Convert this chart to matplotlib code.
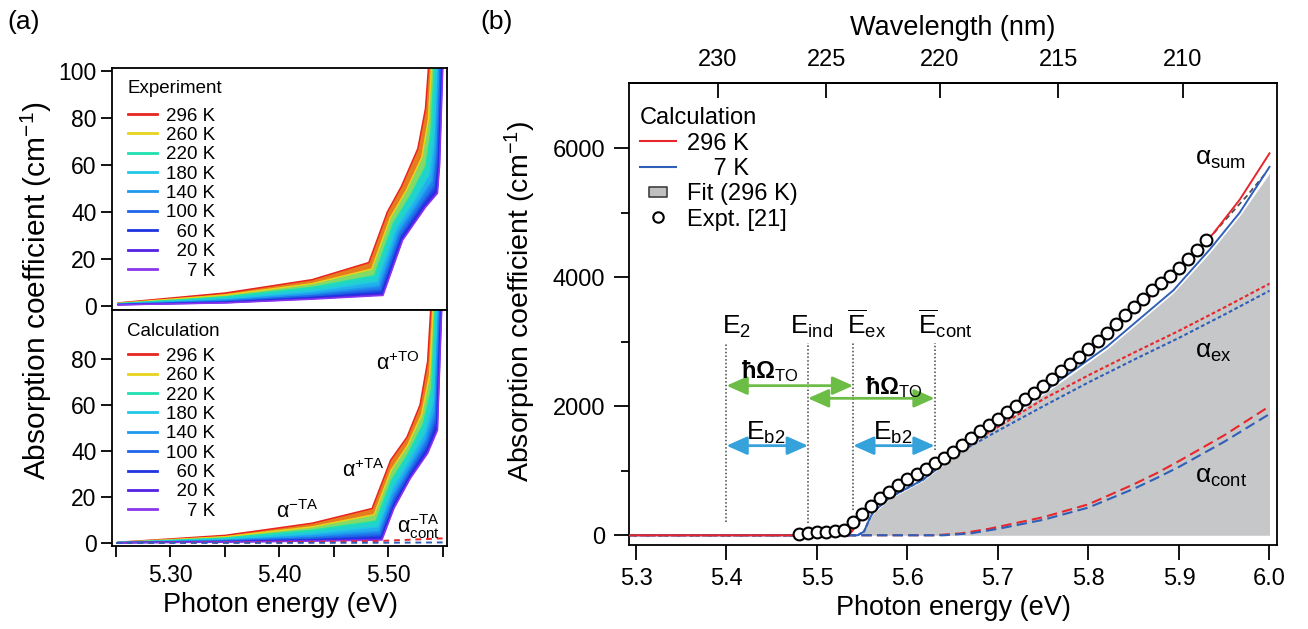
import numpy as np
import matplotlib.pyplot as plt
from matplotlib.lines import Line2D
from matplotlib.path import Path
from matplotlib.colors import to_rgb

plt.rcParams['font.family'] = ['Liberation Sans', 'DejaVu Sans']
plt.rcParams['mathtext.fontset'] = 'custom'
plt.rcParams['mathtext.rm'] = 'Liberation Sans'
plt.rcParams['mathtext.it'] = 'Liberation Sans:italic'
plt.rcParams['mathtext.bf'] = 'Liberation Sans:bold'
plt.rcParams['axes.linewidth'] = 1.3

# ---------------- (a) temperature series ----------------
temp_labels = ['296 K', '260 K', '220 K', '180 K', '140 K', '100 K',
               '  60 K', '  20 K', '    7 K']
temp_colors = ['#e8251f', '#e6d31c', '#1fe0b0', '#22c7e6', '#1f98f0',
               '#1f66e8', '#1f33e0', '#5322e3', '#8a35ee']

# measured spectra, one row per temperature (warm -> cold)
exp_energy = [
    [5.252, 5.35, 5.43, 5.482, 5.499, 5.512, 5.527, 5.534, 5.537],
    [5.252, 5.35, 5.43, 5.4846, 5.5018, 5.5164, 5.5306, 5.5366, 5.5396],
    [5.252, 5.35, 5.43, 5.4872, 5.5046, 5.5208, 5.5342, 5.5392, 5.5422],
    [5.252, 5.35, 5.43, 5.4895, 5.5071, 5.5248, 5.5374, 5.5415, 5.5445],
    [5.252, 5.35, 5.43, 5.4914, 5.5091, 5.5278, 5.5400, 5.5434, 5.5464],
    [5.252, 5.35, 5.43, 5.4928, 5.5106, 5.5303, 5.5419, 5.5448, 5.5478],
    [5.252, 5.35, 5.43, 5.4940, 5.5119, 5.5322, 5.5436, 5.5460, 5.5490],
    [5.252, 5.35, 5.43, 5.4947, 5.5127, 5.5336, 5.5446, 5.5467, 5.5497],
    [5.252, 5.35, 5.43, 5.4950, 5.5130, 5.5340, 5.5450, 5.5470, 5.5500],
]
exp_alpha = [
    [1.30, 5.50, 11.2, 18.5, 40.0, 51.0, 67.0, 84.0, 103],
    [1.14, 4.66, 9.5, 15.7, 37.6, 49.2, 63.2, 79.2, 103],
    [0.98, 3.82, 7.9, 12.9, 35.2, 47.4, 59.4, 74.4, 103],
    [0.84, 3.06, 6.3, 10.4, 33.0, 45.8, 56.0, 70.1, 103],
    [0.72, 2.48, 5.1, 8.4, 31.4, 44.5, 53.3, 66.7, 103],
    [0.64, 2.01, 4.3, 6.9, 30.0, 43.5, 51.2, 64.1, 103],
    [0.56, 1.64, 3.6, 5.6, 29.0, 42.7, 49.5, 61.9, 103],
    [0.52, 1.38, 3.1, 4.8, 28.2, 42.2, 48.4, 60.5, 103],
    [0.50, 1.30, 2.9, 4.5, 28.0, 42.0, 48.0, 60.0, 103],
]

# calculated spectra
calc_energy = [
    [5.252, 5.35, 5.43, 5.485, 5.502, 5.517, 5.529, 5.536, 5.539],
    [5.252, 5.35, 5.43, 5.4868, 5.5026, 5.5176, 5.5304, 5.5378, 5.5410],
    [5.252, 5.35, 5.43, 5.4886, 5.5032, 5.5182, 5.5318, 5.5396, 5.5430],
    [5.252, 5.35, 5.43, 5.4902, 5.5037, 5.5187, 5.5331, 5.5412, 5.5448],
    [5.252, 5.35, 5.43, 5.4915, 5.5042, 5.5192, 5.5340, 5.5425, 5.5462],
    [5.252, 5.35, 5.43, 5.4925, 5.5045, 5.5195, 5.5348, 5.5435, 5.5473],
    [5.252, 5.35, 5.43, 5.4933, 5.5048, 5.5198, 5.5354, 5.5443, 5.5482],
    [5.252, 5.35, 5.43, 5.4938, 5.5050, 5.5200, 5.5359, 5.5448, 5.5488],
    [5.252, 5.35, 5.43, 5.4940, 5.5050, 5.5200, 5.5360, 5.5450, 5.5490],
]
calc_alpha = [
    [0.30, 3.30, 8.6, 15.0, 36.0, 46.0, 60.0, 79.0, 103],
    [0.26, 2.72, 7.0, 12.3, 31.8, 42.4, 55.8, 73.0, 103],
    [0.22, 2.14, 5.5, 9.5, 27.6, 38.8, 51.6, 67.0, 103],
    [0.18, 1.62, 4.1, 7.05, 23.8, 35.6, 47.8, 61.6, 103],
    [0.16, 1.21, 3.0, 5.14, 20.9, 33.0, 44.9, 57.4, 103],
    [0.13, 0.89, 2.1, 3.63, 18.6, 31.1, 42.6, 54.1, 103],
    [0.12, 0.63, 1.4, 2.4, 16.7, 29.4, 40.7, 51.4, 103],
    [0.10, 0.46, 0.96, 1.57, 15.4, 28.4, 39.4, 49.6, 103],
    [0.10, 0.40, 0.80, 1.30, 15.0, 28.0, 39.0, 49.0, 103],
]

# continuum part of the -TA branch (296 K and 7 K)
cont_a_energy = [5.25, 5.40, 5.49, 5.555]
cont_a_296 = [0.05, 0.30, 0.85, 2.1]
cont_a_7 = [0.0, 0.05, 0.10, 0.25]

# ---------------- (b) room temperature vs 7 K ----------------
sum296_energy = [5.29, 5.53, 5.536, 5.545, 5.55, 5.56, 5.57, 5.60, 5.64,
                 5.70, 5.766, 5.82, 5.894, 5.938, 5.967, 6.0]
sum296 = [0, 0, 20, 180, 290, 430, 550, 850, 1190,
          1780, 2470, 3110, 4020, 4680, 5200, 5920]
sum7_energy = [5.29, 5.545, 5.552, 5.558, 5.562, 5.581, 5.617, 5.654, 5.691,
               5.732, 5.768, 5.82, 5.894, 5.934, 5.967, 6.0]
sum7 = [0, 0, 60, 250, 360, 590, 860, 1270, 1630,
        2035, 2400, 2920, 3800, 4430, 5000, 5710]

ex296_energy = [5.29, 5.535, 5.545, 5.55, 5.56, 5.57, 5.60, 5.64, 5.70,
                5.75, 5.80, 5.85, 5.90, 5.95, 6.0]
ex296 = [0, 0, 180, 290, 430, 550, 850, 1170, 1680,
         2110, 2480, 2830, 3170, 3530, 3900]
ex7_energy = [5.29, 5.545, 5.552, 5.558, 5.562, 5.581, 5.617, 5.654, 5.70,
              5.75, 5.80, 5.85, 5.90, 5.95, 6.0]
ex7 = [0, 0, 60, 250, 360, 590, 860, 1260, 1620,
       2000, 2370, 2720, 3060, 3420, 3790]

cont296_energy = [5.29, 5.63, 5.66, 5.69, 5.75, 5.80, 5.85, 5.875, 5.90, 5.95, 6.0]
cont296 = [0, 0, 30, 100, 280, 480, 790, 960, 1150, 1550, 2000]
cont7_energy = [5.29, 5.64, 5.67, 5.70, 5.75, 5.80, 5.85, 5.875, 5.90, 5.95, 6.0]
cont7 = [0, 0, 30, 100, 240, 430, 720, 885, 1060, 1450, 1880]

fit_energy = [5.548, 5.555, 5.562, 5.58, 5.617, 5.654, 5.691, 5.732, 5.768,
              5.82, 5.894, 5.934, 5.967, 6.0]
fit_alpha = [0, 150, 330, 560, 840, 1240, 1600, 2000, 2360,
             2880, 3760, 4380, 4950, 5610]
fit_ext_energy = [5.932, 5.95, 5.975, 5.995]
fit_ext_alpha = [4577, 4870, 5260, 5600]

expt_energy = np.round(np.arange(5.48, 5.935, 0.01), 2)
expt_alpha = [15, 30, 45, 56, 67, 80, 200, 335, 460, 573,
              676, 775, 865, 948, 1035, 1122, 1203, 1296, 1400, 1505,
              1610, 1712, 1805, 1905, 2005, 2105, 2205, 2315, 2420, 2545,
              2655, 2760, 2880, 3005, 3140, 3280, 3420, 3540, 3665, 3795,
              3905, 4020, 4150, 4285, 4420, 4570]

# characteristic energies (eV)
E2, E_ind, E_ex, E_cont = 5.40, 5.49, 5.54, 5.63

RED = '#e8262b'
BLUE = '#2f5fb8'
GREEN = '#6cbd45'
CYAN = '#35a2dc'
GRAY = '#c6c7c9'


def mix(c1, c2):
    a, b = np.array(to_rgb(c1)), np.array(to_rgb(c2))
    return tuple((a + b) / 2)


def draw_band(ax, energies, alphas):
    for i in range(len(energies) - 1):
        xs = list(energies[i]) + list(energies[i + 1])[::-1]
        ys = list(alphas[i]) + list(alphas[i + 1])[::-1]
        ax.fill(xs, ys, color=mix(temp_colors[i], temp_colors[i + 1]), lw=0, zorder=1)
    for e, a, c in zip(energies, alphas, temp_colors):
        ax.plot(e, a, color=c, lw=1.1, zorder=2)


def temp_legend(ax, title, ytitle, ytop):
    ax.text(0.045, ytitle, title, transform=ax.transAxes, fontsize=13.5,
            ha='left', va='center')
    handles = [Line2D([], [], color=c, lw=2) for c in temp_colors]
    leg = ax.legend(handles, temp_labels, loc='upper left',
                    bbox_to_anchor=(0.047, ytop), frameon=False, fontsize=13.5,
                    handlelength=1.55, handletextpad=0.5,
                    labelspacing=0.12, borderpad=0, borderaxespad=0)
    return leg


fig = plt.figure(figsize=(13.08, 6.29), dpi=100)
ax_top = fig.add_axes([0.0856, 0.5072, 0.2561, 0.3847])
ax_bot = fig.add_axes([0.0856, 0.1320, 0.2561, 0.3752])

for ax in (ax_top, ax_bot):
    ax.set_xlim(5.2463, 5.5537)
    ax.tick_params(direction='out', length=8, width=1.3, labelsize=16.5, pad=3)
    ax.tick_params(which='minor', direction='out', length=8, width=1.3)

draw_band(ax_top, exp_energy, exp_alpha)
ax_top.set_ylim(-1.7, 101.3)
ax_top.set_yticks([0, 20, 40, 60, 80, 100])
ax_top.set_xticks([])
ax_top.set_xticks([], minor=True)
temp_legend(ax_top, 'Experiment', 0.915, 0.837)

draw_band(ax_bot, calc_energy, calc_alpha)
ax_bot.plot(cont_a_energy, cont_a_296, color=RED, lw=1.4, ls=(0, (3, 2.5)), zorder=3)
ax_bot.plot(cont_a_energy, cont_a_7, color=BLUE, lw=1.4, ls=(0, (3, 2.5)), zorder=3)
ax_bot.set_ylim(-1.3, 101.3)
ax_bot.set_yticks([0, 20, 40, 60, 80])
ax_bot.set_xticks([5.30, 5.40, 5.50])
ax_bot.set_xticks([5.25, 5.35, 5.45, 5.55], minor=True)
ax_bot.set_xticklabels(['5.30', '5.40', '5.50'])
ax_bot.tick_params(axis='x', pad=5)
temp_legend(ax_bot, 'Calculation', 0.909, 0.840)

lab = dict(fontsize=15.5, ha='left', va='baseline')
ax_bot.text(5.489, 75.2, r'$\mathrm{α}^{\mathrm{+TO}}$', **lab)
ax_bot.text(5.457, 28.7, r'$\mathrm{α}^{\mathrm{+TA}}$', **lab)
ax_bot.text(5.397, 10.9, r'$\mathrm{α}^{\mathrm{-TA}}$', **lab)
ax_bot.text(5.508, 4.3, r'$\mathrm{α}^{\mathrm{-TA}}_{\mathrm{cont}}$', **lab)

fig.text(36 / 1308, 1 - 291 / 629, 'Absorption coefficient (cm$^{-1}$)',
         rotation=90, ha='center', va='center', fontsize=21.5)
fig.text(280 / 1308, 1 - 605 / 629, 'Photon energy (eV)', ha='center',
         va='center', fontsize=19.5)
fig.text(24 / 1308, 1 - 22 / 629, '(a)', ha='center', va='center', fontsize=19)
fig.text(497 / 1308, 1 - 22 / 629, '(b)', ha='center', va='center', fontsize=19)

# ---------------- panel (b) ----------------
axb = fig.add_axes([0.4809, 0.1329, 0.4954, 0.7347])
axb.set_xlim(5.2923, 6.0083)
axb.set_ylim(-157, 7006)

axb.fill_between(fit_energy, 0, fit_alpha, color=GRAY, lw=0, zorder=1)
axb.plot(fit_ext_energy, fit_ext_alpha, color='#505050', lw=1.3,
         ls=(0, (3, 2)), zorder=2)

axb.plot(cont296_energy, cont296, color=RED, lw=1.5, ls=(0, (5, 2.5)), zorder=2)
axb.plot(cont7_energy, cont7, color=BLUE, lw=1.5, ls=(0, (5, 2.5)), zorder=2)
axb.plot(ex296_energy, ex296, color=RED, lw=1.5, ls=(0, (1.8, 1.2)), zorder=2)
axb.plot(ex7_energy, ex7, color=BLUE, lw=1.5, ls=(0, (1.8, 1.2)), zorder=2)

axb.plot(sum7_energy, sum7, color=BLUE, lw=1.4, zorder=3)
axb.plot(sum296_energy, sum296, color=RED, lw=1.4, zorder=3)
axb.plot(expt_energy, expt_alpha, 'o', ms=8.5, mfc='white', mec='black',
         mew=1.5, zorder=4)

# characteristic energies and their spacings
vline = dict(color='#444444', lw=1.1, ls=(0, (1, 1.4)), zorder=2)
axb.plot([E2, E2], [200, 2980], **vline)
axb.plot([E_ind, E_ind], [190, 2980], **vline)
axb.plot([E_ex, E_ex], [393, 2980], **vline)
axb.plot([E_cont, E_cont], [1322, 2980], **vline)

elab = dict(fontsize=19, ha='left', va='baseline')
axb.text(5.395, 3116, r'$\mathrm{E}_{\mathrm{2}}$', **elab)
axb.text(5.470, 3116, r'$\mathrm{E}_{\mathrm{ind}}$', **elab)
axb.text(5.533, 3116, r'$\overline{\mathrm{E}}_{\mathrm{ex}}$', **elab)
axb.text(5.612, 3116, r'$\overline{\mathrm{E}}_{\mathrm{cont}}$', **elab)


def span_arrow(x0, x1, y, color):
    axb.annotate('', xy=(x1, y), xytext=(x0, y),
                 arrowprops=dict(arrowstyle='<|-|>,head_length=0.9,head_width=0.4',
                                 color=color, lw=2, shrinkA=0, shrinkB=0,
                                 mutation_scale=14), zorder=3)


span_arrow(E2, E_ex, 2319, GREEN)
span_arrow(E_ind, E_cont, 2123, GREEN)
span_arrow(E2, E_ind, 1389, CYAN)
span_arrow(E_ex, E_cont, 1389, CYAN)

hlab = dict(fontsize=17, ha='center', va='baseline')
axb.text(5.448, 2430, r'$\mathbf{\hbar\Omega}_{\mathrm{TO}}$', **hlab)
axb.text(5.585, 2185, r'$\mathbf{\hbar\Omega}_{\mathrm{TO}}$', **hlab)
axb.text(5.4436, 1477, r'$\mathrm{E}_{\mathrm{b2}}$', fontsize=19, ha='center', va='baseline')
axb.text(5.584, 1477, r'$\mathrm{E}_{\mathrm{b2}}$', fontsize=19, ha='center', va='baseline')

alab = dict(fontsize=19, ha='left', va='baseline')
axb.text(5.9177, 5740, r'$\mathrm{α}_{\mathrm{sum}}$', **alab)
axb.text(5.9177, 2751, r'$\mathrm{α}_{\mathrm{ex}}$', **alab)
axb.text(5.9177, 811, r'$\mathrm{α}_{\mathrm{cont}}$', **alab)

axb.set_xticks(np.round(np.arange(5.3, 6.01, 0.1), 1))
axb.xaxis.set_major_formatter(plt.FormatStrFormatter('%.1f'))
axb.set_yticks([0, 2000, 4000, 6000])
axb.set_yticks([1000, 3000, 5000], minor=True)
axb.tick_params(direction='out', length=11, width=1.3, labelsize=17, pad=5)
axb.tick_params(which='minor', direction='out', length=6, width=1.3)
axb.tick_params(axis='y', pad=6)
axb.set_xlabel('Photon energy (eV)', fontsize=19.5, labelpad=4)
fig.text(520 / 1308, 1 - 301 / 629, 'Absorption coefficient (cm$^{-1}$)',
         rotation=90, ha='center', va='center', fontsize=20.5)


def e2nm(e):
    e = np.asarray(e, dtype=float)
    with np.errstate(divide='ignore'):
        return 1239.84 / e


secax = axb.secondary_xaxis('top', functions=(e2nm, e2nm))
secax.set_xticks([230, 225, 220, 215, 210])
secax.tick_params(direction='in', length=11, width=1.3, labelsize=17, pad=9)
secax.set_xlabel('Wavelength (nm)', fontsize=19.5, labelpad=10)

fit_marker = Path([(-1, -0.6), (1, -0.6), (1, 0.6), (-1, 0.6), (-1, -0.6)],
                  [Path.MOVETO, Path.LINETO, Path.LINETO, Path.LINETO, Path.CLOSEPOLY])
handles_b = [Line2D([], [], color=RED, lw=1.5),
             Line2D([], [], color=BLUE, lw=1.5),
             Line2D([], [], ls='none', marker=fit_marker, ms=13, mfc='#bfc0c2',
                    mec='#404040', mew=1.2),
             Line2D([], [], ls='none', marker='o', ms=7.5, mfc='white',
                    mec='black', mew=1.5)]
axb.legend(handles_b, ['296 K', '    7 K', 'Fit (296 K)', 'Expt. [21]'],
           title='Calculation', loc='upper left', bbox_to_anchor=(0.017, 0.948),
           frameon=False, fontsize=17, title_fontsize=17, handlelength=1.52,
           handletextpad=0.47, labelspacing=0.14, borderpad=0, borderaxespad=0,
           alignment='left')

fig.savefig('out.png', dpi=100)
